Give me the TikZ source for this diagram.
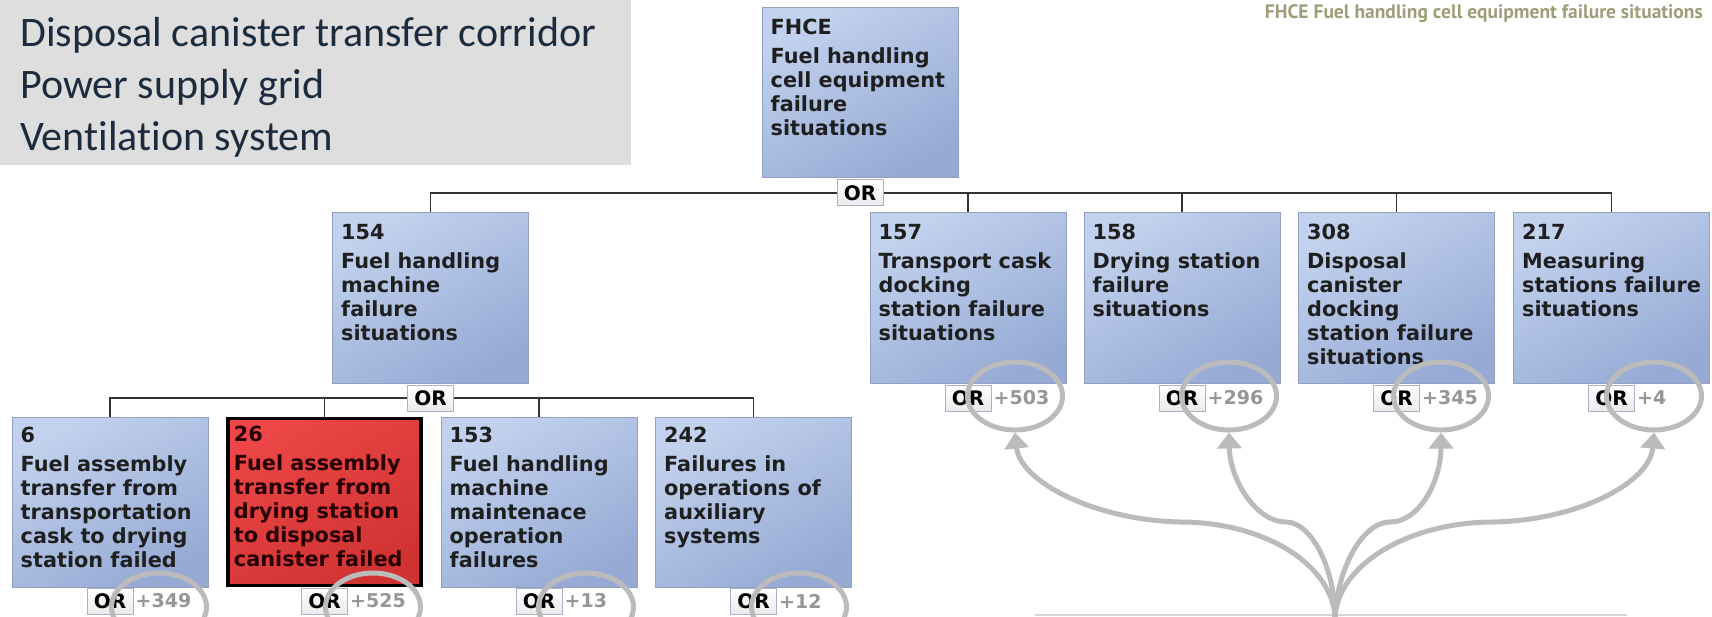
\documentclass[tikz,border=0pt]{standalone}
\usepackage{fontspec}
\setmainfont{DejaVu Sans}
\newfontfamily\panelfont{Carlito}[Ligatures=NoCommon]
\newfontfamily\titlefont{PT Sans}
\usetikzlibrary{arrows.meta,shapes.geometric}

\definecolor{boxtop}{RGB}{194,210,238}
\definecolor{boxbot}{RGB}{150,170,212}
\definecolor{boxedge}{RGB}{146,160,198}
\definecolor{redtop}{RGB}{236,70,70}
\definecolor{redbot}{RGB}{208,50,50}
\definecolor{linkgray}{RGB}{51,51,51}
\definecolor{ringgray}{RGB}{187,187,187}
\definecolor{panelgray}{RGB}{222,222,222}
\definecolor{paneltext}{RGB}{28,44,62}
\definecolor{titleolive}{RGB}{158,158,122}
\definecolor{plusgray}{RGB}{150,150,150}
\definecolor{orborder}{RGB}{170,176,198}
\definecolor{rulegray}{RGB}{214,214,214}

% event text: number on the first line, description below
\newcommand{\evtext}[2]{\begin{tabular}[t]{@{}l@{}}#1\\[5pt]#2\end{tabular}}

\tikzset{
  evbox/.style={rectangle, minimum width=196pt, minimum height=170pt, inner sep=0pt,
    draw=boxedge, line width=1pt, top color=boxtop, bottom color=boxbot, shading angle=30},
  hitbox/.style={rectangle, minimum width=193pt, minimum height=167pt, inner sep=0pt,
    draw=black, line width=3.5pt, top color=redtop, bottom color=redbot, shading angle=30},
  evlabel/.style={anchor=base west, inner sep=0pt, text=black!88,
    font=\fontsize{20.8}{24}\selectfont\bfseries},
  orgate/.style={rectangle, draw=orborder, line width=1pt, top color=white, bottom color=black!8,
    minimum width=46pt, minimum height=26pt, inner sep=0pt,
    font=\fontsize{20}{24}\selectfont\bfseries},
  hidden/.style={anchor=west, inner sep=0pt, xshift=2pt, text=plusgray,
    font=\fontsize{19}{24}\selectfont\bfseries},
  link/.style={draw=linkgray, line width=1.5pt},
  ring/.style={ellipse, draw=ringgray, line width=5pt, minimum width=95pt, minimum height=68pt, inner sep=0pt},
  fan/.style={draw=ringgray, line width=5pt, -{Triangle[width=24pt,length=16pt]}},
  panelline/.style={anchor=base west, inner sep=0pt, text=paneltext,
    font=\panelfont\fontsize{42}{50}\selectfont},
}

\begin{document}
\begin{tikzpicture}[x=1pt,y=-1pt]
\clip (0,0) rectangle (1712,617);
\fill[white] (0,0) rectangle (1712,617);

% legend panel
\node[rectangle, fill=panelgray, anchor=north west, minimum width=631pt, minimum height=165pt, inner sep=0pt] (panel) at (0,0) {};
\node[panelline] (p1) at (20,47) {Disposal canister transfer corridor};
\node[panelline] (p2) at (20,99) {Power supply grid};
\node[panelline] (p3) at (20,151) {Ventilation system};

% heading
\node[anchor=base east, inner sep=0pt, text=titleolive, font=\titlefont\fontsize{19.5}{24}\selectfont\bfseries] (title) at (1703,19) {FHCE Fuel handling cell equipment failure situations};

% event boxes
\node[evbox] (fhce) at (860,93) {};
\node[evbox] (n154) at (430.5,298) {};
\node[evbox] (n157) at (968,298) {};
\node[evbox] (n158) at (1182,298) {};
\node[evbox] (n308) at (1396.5,298) {};
\node[evbox] (n217) at (1611.5,298) {};
\node[evbox] (n6) at (110,502) {};
\node[hitbox] (n26) at (324.5,502) {};
\node[evbox] (n153) at (539,502) {};
\node[evbox] (n242) at (753.5,502) {};

\node[evlabel] at ([shift={(9,27)}]fhce.north west) {\evtext{FHCE}{Fuel handling\\cell equipment\\failure\\situations}};
\node[evlabel] at ([shift={(9,27)}]n154.north west) {\evtext{154}{Fuel handling\\machine\\failure\\situations}};
\node[evlabel] at ([shift={(9,27)}]n157.north west) {\evtext{157}{Transport cask\\docking\\station failure\\situations}};
\node[evlabel] at ([shift={(9,27)}]n158.north west) {\evtext{158}{Drying station\\failure\\situations}};
\node[evlabel] at ([shift={(9,27)}]n308.north west) {\evtext{308}{Disposal\\canister\\docking\\station failure\\situations}};
\node[evlabel] at ([shift={(9,27)}]n217.north west) {\evtext{217}{Measuring\\stations failure\\situations}};
\node[evlabel] at ([shift={(9,26)}]n6.north west) {\evtext{6}{Fuel assembly\\transfer from\\transportation\\cask to drying\\station failed}};
\node[evlabel, text=black!85!red] at ([shift={(7.5,24.5)}]n26.north west) {\evtext{26}{Fuel assembly\\transfer from\\drying station\\to disposal\\canister failed}};
\node[evlabel] at ([shift={(9,26)}]n153.north west) {\evtext{153}{Fuel handling\\machine\\maintenace\\operation\\failures}};
\node[evlabel] at ([shift={(9,26)}]n242.north west) {\evtext{242}{Failures in\\operations of\\auxiliary\\systems}};

% OR gates
\node[orgate] (orF) at (860,193) {OR};
\node[orgate] (or154) at (430.5,398) {OR};
\node[orgate] (or157) at (968,398) {OR};
\node[orgate] (or158) at (1182,398) {OR};
\node[orgate] (or308) at (1396.5,398) {OR};
\node[orgate] (or217) at (1611.5,398) {OR};
\node[orgate] (or6) at (110,601) {OR};
\node[orgate] (or26) at (324.5,601) {OR};
\node[orgate] (or153) at (539,601) {OR};
\node[orgate] (or242) at (753.5,601) {OR};

% collapsed subtree counts
\node[hidden] (h157) at (or157.east) {+503};
\node[hidden] (h158) at (or158.east) {+296};
\node[hidden] (h308) at (or308.east) {+345};
\node[hidden] (h217) at (or217.east) {+4};
\node[hidden] (h6) at (or6.east) {+349};
\node[hidden] (h26) at (or26.east) {+525};
\node[hidden] (h153) at (or153.east) {+13};
\node[hidden] (h242) at (or242.east) {+12};

% tree links
\draw[link] (orF.west) -| (n154.north);
\foreach \c in {n157,n158,n308,n217} \draw[link] (orF.east) -| (\c.north);
\foreach \c in {n6,n26} \draw[link] (or154.west) -| (\c.north);
\foreach \c in {n153,n242} \draw[link] (or154.east) -| (\c.north);

% highlight rings
\node[ring] (r157) at (1015,396) {};
\node[ring] (r158) at (1229,396) {};
\node[ring] (r308) at (1441,396) {};
\node[ring] (r217) at (1654,396) {};
\node[ring] (r6) at (159,607) {};
\node[ring] (r26) at (373,607) {};
\node[ring] (r153) at (586,607) {};
\node[ring] (r242) at (799,607) {};

% fan of arrows
\coordinate (hub) at (1335,617);
\coordinate (ruleL) at (1035,615);
\coordinate (ruleR) at (1627,615);
\draw[draw=rulegray, line width=2pt] (ruleL) -- (ruleR);
\draw[fan] (hub) .. controls (1332,565) and (1265,522) .. (1180,522) .. controls (1095,520) and (1020,482) .. (r157.south);
\draw[fan] (hub) .. controls (1335,570) and (1312,522) .. (1286,522) .. controls (1256,522) and (1230,480) .. (r158.south);
\draw[fan] (hub) .. controls (1337,570) and (1362,522) .. (1390,522) .. controls (1420,522) and (1441,480) .. (r308.south);
\draw[fan] (hub) .. controls (1338,565) and (1408,522) .. (1494,522) .. controls (1580,520) and (1650,482) .. (r217.south);
\end{tikzpicture}
\end{document}
